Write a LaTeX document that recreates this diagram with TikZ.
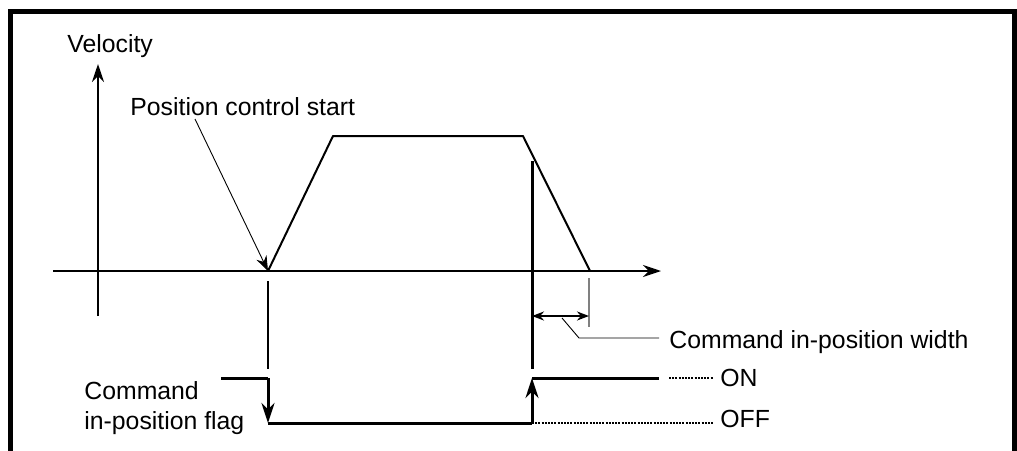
\documentclass[tikz,border=0pt]{standalone}
\usepackage{fontspec}
\setmainfont{Liberation Sans}
\usetikzlibrary{arrows.meta, positioning}

\begin{document}
\begin{tikzpicture}[x=0.5pt, y=-0.5pt, >={Stealth[length=9pt, width=6pt]},
    lbl/.style={inner sep=0pt, font=\fontsize{12.4}{15}\selectfont},
    axis/.style={line width=0.7pt},
    curve/.style={line width=1pt},
    flag/.style={line width=1.5pt},
    leader/.style={line width=0.45pt},
    dots/.style={line width=0.8pt, dash pattern=on 1pt off 0.6pt}]

    \useasboundingbox (0,0) rectangle (1017,450);
    \draw [line width=2.5pt] (10,460) -- (10,11.5) -- (1014.5,11.5) -- (1014.5,460);

    % axes
    \coordinate (vbot) at (98,316);
    \coordinate (vtop) at (98,64);
    \coordinate (hleft) at (53,271);
    \coordinate (hright) at (661,271);
    \draw [->, line width=1.1pt] (vbot) -- (vtop);
    \draw [->, axis] (hleft) -- (hright);
    \node [lbl, anchor=base west] (vel) at (67,52) {Velocity};

    % velocity profile
    \coordinate (start) at (268,271);
    \coordinate (acc) at (333,136);
    \coordinate (dec) at (523,136);
    \coordinate (stop) at (590,271);
    \draw [curve, line join=round] (start) -- (acc) -- (dec) -- (stop);

    \node [lbl, anchor=base west] (pcs) at (130,115) {Position control start};
    \coordinate (pcsfoot) at (195,119);
    \draw [->, leader, >={Stealth[length=7.5pt, width=5.5pt]}] (pcsfoot) -- (start);

    % timing marks
    \coordinate (mark1top) at (268,281);
    \coordinate (mark1bot) at (268,369);
    \coordinate (mark2top) at (532,161);
    \coordinate (mark2bot) at (532,369);
    \coordinate (mark3top) at (589,278);
    \coordinate (mark3bot) at (589,327);
    \draw [line width=0.6pt] (mark1top) -- (mark1bot);
    \draw [flag] (mark2top) -- (mark2bot);
    \draw [line width=0.8pt, gray] (mark3top) -- (mark3bot);

    % in-position width
    \coordinate (wl) at (532,316);
    \coordinate (wr) at (589,316);
    \draw [<->, line width=1pt, >={Stealth[length=6pt, width=4.5pt]}] (wl) -- (wr);
    \node [lbl, anchor=base west] (width) at (669,348) {Command in-position width};
    \coordinate (wfoot) at (562,318);
    \coordinate (wknee) at (579,338);
    \coordinate (wend) at (659,338);
    \draw [leader] (wfoot) -- (wknee) -- (wend);

    % in-position flag
    \coordinate (f0) at (221,378);
    \coordinate (f1) at (268,378);
    \coordinate (f2) at (268,423);
    \coordinate (f3) at (532,423);
    \coordinate (f4) at (532,378);
    \coordinate (f5) at (659,378);
    \draw [flag] (f0) -- (f1);
    \draw [flag, ->, >={Stealth[length=10pt, width=6.5pt]}] (f1) -- (f2);
    \draw [flag] (f2) -- (f3);
    \draw [flag, ->, >={Stealth[length=10pt, width=6.5pt]}] (f3) -- (f4);
    \draw [flag] (f4) -- (f5);

    \node [lbl, anchor=west] (on) at (720,378) {ON};
    \node [lbl, anchor=west] (off) at (720,419) {OFF};
    \coordinate (ondots) at (669,378);
    \draw [dots] (ondots) -- (ondots -| 713,0);
    \draw [dots] (f3) -- (f3 -| 713,0);

    \node [lbl, anchor=base west, align=left] (flagtxt) at (84,429) {Command\\in-position flag};
\end{tikzpicture}
\end{document}
